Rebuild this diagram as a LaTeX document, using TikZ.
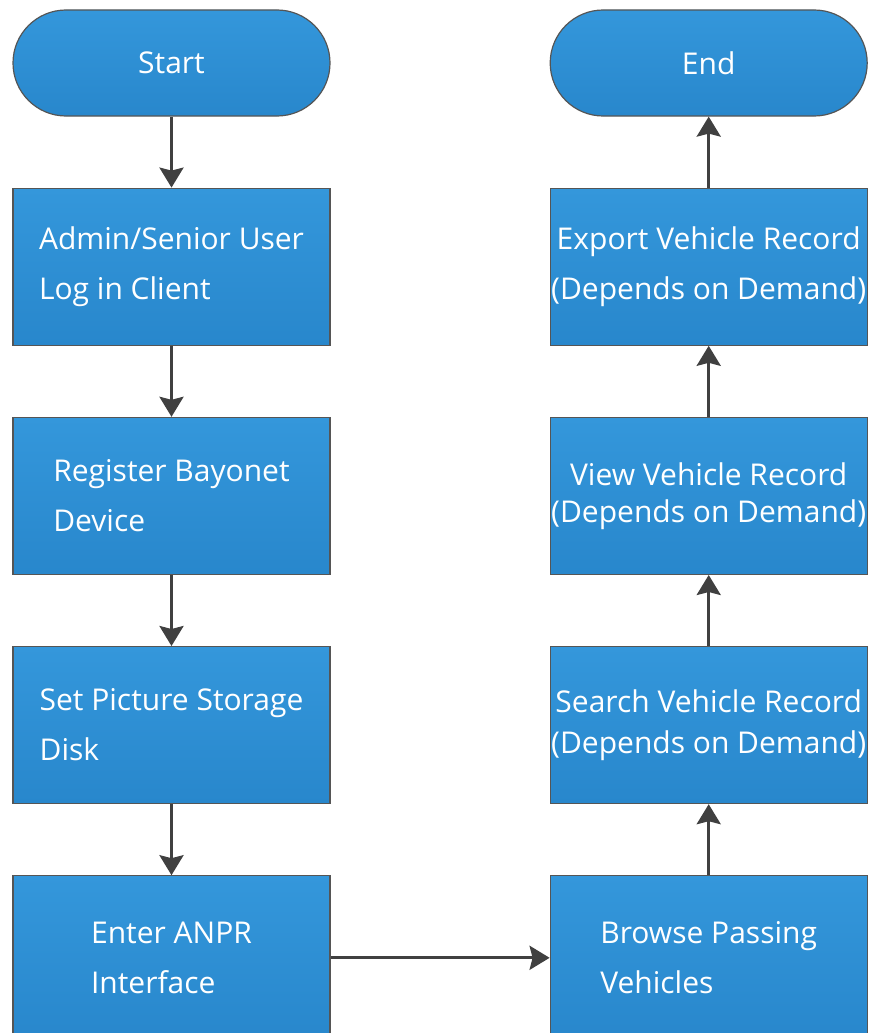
\documentclass[tikz,border=0pt]{standalone}
\usepackage{fontspec}
\setmainfont{Open Sans}
\usetikzlibrary{arrows.meta, positioning}
\definecolor{boxtop}{RGB}{52,151,219}
\definecolor{boxbot}{RGB}{40,135,204}
\definecolor{edgegray}{RGB}{85,85,85}
\definecolor{arrowgray}{RGB}{64,64,64}
\tikzstyle{proc}=[rectangle, draw=edgegray, line width=1.2pt, top color=boxtop, bottom color=boxbot, text=white, inner xsep=0pt, minimum width=317pt, minimum height=157pt, font=\fontsize{30}{50}\selectfont]
\tikzstyle{term}=[proc, minimum height=106pt, rounded corners=53pt]
\tikzstyle{flow}=[draw=arrowgray, line width=3pt, -{Stealth[length=20pt, width=24pt, inset=3pt]}]

\begin{document}
\begin{tikzpicture}[x=1pt, y=1pt, node distance=71pt]
        \useasboundingbox (0,0) rectangle (869,-1033);
        \clip (0,0) rectangle (869,-1033);
        \node[term] (start) at (171.5,-63) {Start};
        \node[proc, below=of start, align=left] (login) {Admin/Senior User\\Log in Client};
        \node[proc, below=of login, align=left] (register) {Register Bayonet\\Device};
        \node[proc, below=of register, align=left] (disk) {Set Picture Storage\\Disk};
        \node[proc, below=of disk, align=left, minimum height=164pt] (anpr) {Enter ANPR\\Interface};
        \node[proc, right=219pt of anpr, align=left, minimum height=164pt] (browse) {Browse Passing\\Vehicles};
        \node[proc, above=of browse, align=center, font=\fontsize{30}{41}\selectfont] (search) {Search Vehicle Record\\(Depends on Demand)};
        \node[proc, above=of search, align=center, font=\fontsize{30}{37}\selectfont] (view) {View Vehicle Record\\(Depends on Demand)};
        \node[proc, above=of view, align=center] (export) {Export Vehicle Record\\(Depends on Demand)};
        \node[term, above=of export] (finish) {End};
        \draw[flow] (start) -- (login);
        \draw[flow] (login) -- (register);
        \draw[flow] (register) -- (disk);
        \draw[flow] (disk) -- (anpr);
        \draw[flow] (anpr) -- (browse);
        \draw[flow] (browse) -- (search);
        \draw[flow] (search) -- (view);
        \draw[flow] (view) -- (export);
        \draw[flow] (export) -- (finish);
    \end{tikzpicture}
\end{document}
